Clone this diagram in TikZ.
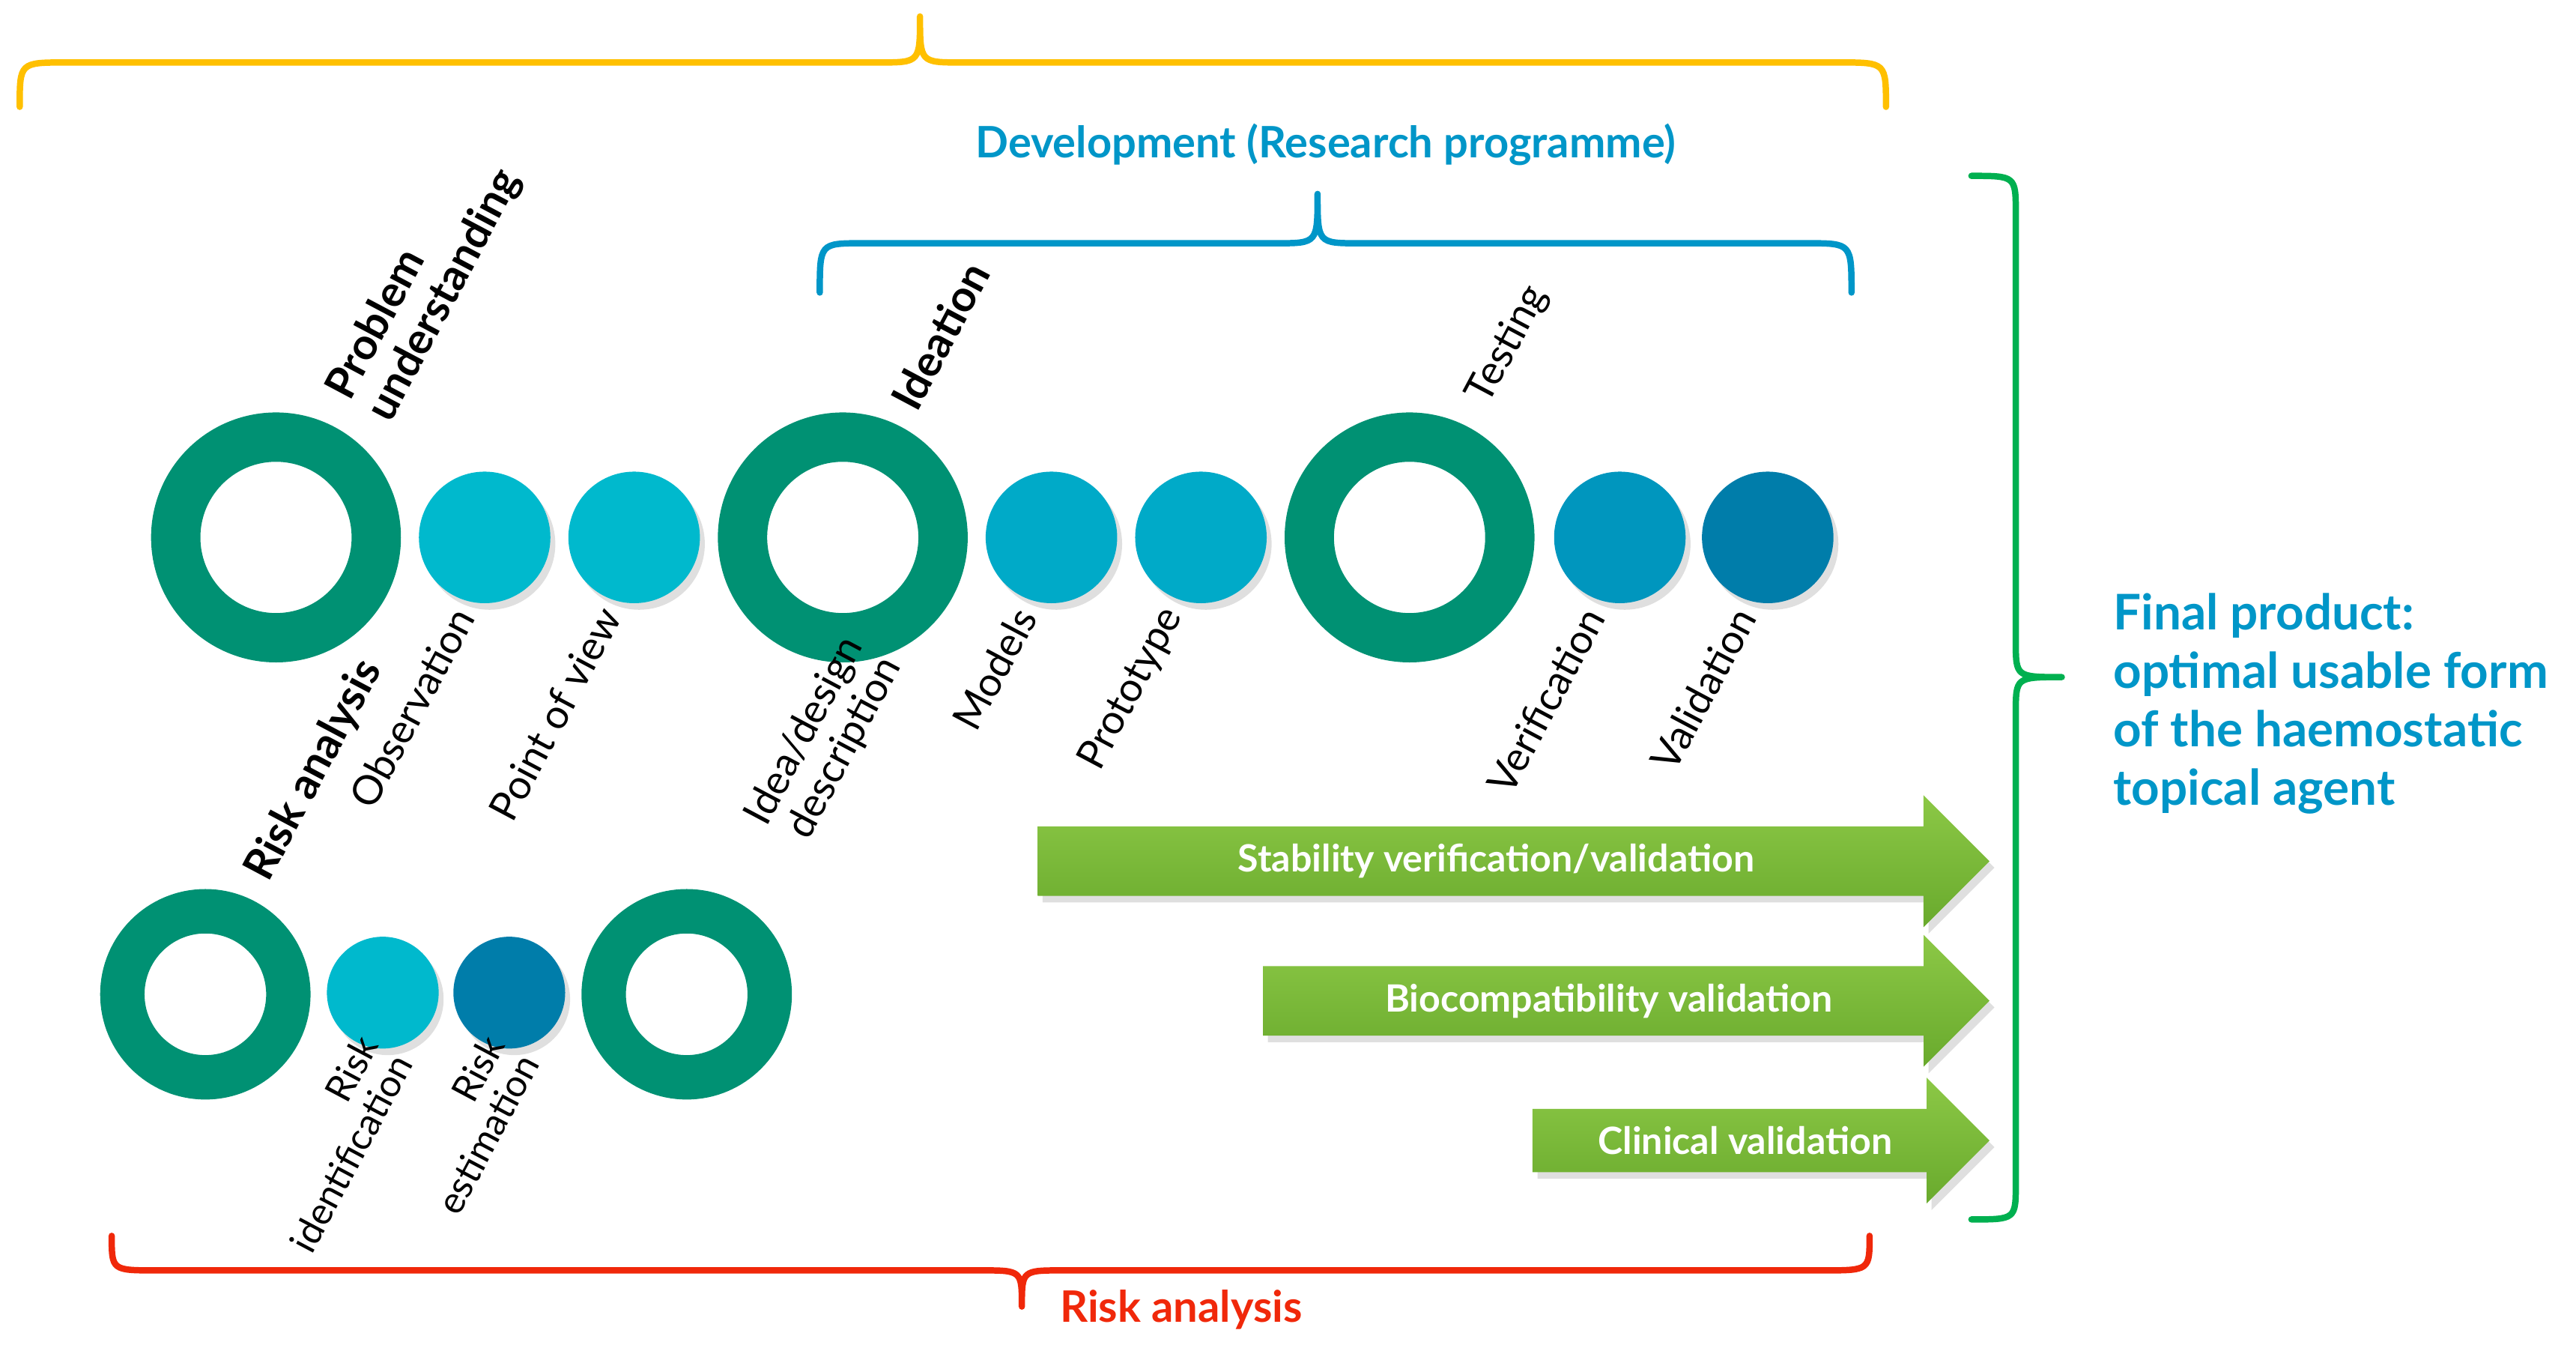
\documentclass[tikz,border=0pt]{standalone}
\usepackage{fontspec}
\setmainfont{Lato}
\usetikzlibrary{shapes.arrows,shadows}
\definecolor{ring}{RGB}{0,145,115}
\definecolor{cyanA}{RGB}{0,185,205}
\definecolor{cyanB}{RGB}{0,170,200}
\definecolor{cyanC}{RGB}{0,150,190}
\definecolor{cyanD}{RGB}{0,125,170}
\definecolor{devblue}{RGB}{0,150,200}
\definecolor{ybrace}{RGB}{255,192,0}
\definecolor{gbrace}{RGB}{0,176,80}
\definecolor{rbrace}{RGB}{240,40,10}
\definecolor{arrowG}{RGB}{105,170,45}
\definecolor{arrowL}{RGB}{140,200,70}
\begin{document}
\begin{tikzpicture}[x=0.01cm,y=-0.01cm,
  shd/.style={drop shadow={opacity=0.25,shadow xshift=0.03cm,shadow yshift=-0.04cm}},
  bigring/.style={circle,draw=ring,fill=white,line width=0.3cm,minimum size=1.22cm,inner sep=0,shd},
  smallring/.style={circle,draw=ring,fill=white,line width=0.27cm,minimum size=1.01cm,inner sep=0,shd},
  dot/.style={circle,minimum size=0.8cm,inner sep=0,shd},
  sdot/.style={circle,minimum size=0.68cm,inner sep=0,shd},
  lab/.style={font=\fontsize{7}{7.5}\selectfont,rotate=62,anchor=east,align=right,inner sep=1pt},
  slab/.style={lab,font=\fontsize{6.5}{6.8}\selectfont},
  blab/.style={lab,font=\fontsize{7.5}{8}\selectfont\bfseries},
  brace/.style={line width=1.1pt,line cap=round,line join=round},
  garrow/.style={single arrow,single arrow head extend=0.19cm,minimum height=#1,minimum width=0.38cm,inner xsep=0,inner ysep=0.1cm,
     top color=arrowL,bottom color=arrowG,draw=none,text=white,font=\fontsize{6.5}{7}\selectfont\bfseries,anchor=tip,shd}]
\useasboundingbox (0,0) rectangle (1568,820);
% braces
\draw[brace,ybrace] (12,65) .. controls (12,38) .. (40,38) -- (535,38) .. controls (560,38) .. (560,10) .. controls (560,38) .. (585,38) -- (1120,38) .. controls (1148,38) .. (1148,65);
\draw[brace,devblue] (499,178) .. controls (499,148) .. (525,148) -- (777,148) .. controls (802,148) .. (802,118) .. controls (802,148) .. (827,148) -- (1100,148) .. controls (1127,148) .. (1127,178);
\draw[brace,gbrace] (1200,107) .. controls (1227,107) .. (1227,130) -- (1227,390) .. controls (1227,412) .. (1255,412) .. controls (1227,412) .. (1227,434) -- (1227,720) .. controls (1227,742) .. (1200,742);
\draw[brace,rbrace] (68,752) .. controls (68,773) .. (95,773) -- (597,773) .. controls (622,773) .. (622,795) .. controls (622,773) .. (647,773) -- (1110,773) .. controls (1138,773) .. (1138,752);
\node[text=devblue,font=\fontsize{7.5}{9}\selectfont\bfseries] (dev) at (807,88) {Development (Research programme)};
\node[text=rbrace,font=\fontsize{7.5}{9}\selectfont\bfseries] (ra) at (719,797) {Risk analysis};
\node[text=devblue,font=\fontsize{8.5}{10.1}\selectfont\bfseries,align=left,anchor=west] (fp) at (1274,428) {Final product:\\optimal usable form\\of the haemostatic\\topical agent};
% top row
\node[bigring] (r1) at (168,327) {};
\node[dot,fill=cyanA] (c1) at (295,327) {};
\node[dot,fill=cyanA] (c2) at (386,327) {};
\node[bigring] (r2) at (513,327) {};
\node[dot,fill=cyanB] (c3) at (640,327) {};
\node[dot,fill=cyanB] (c4) at (731,327) {};
\node[bigring] (r3) at (858,327) {};
\node[dot,fill=cyanC] (c5) at (986,327) {};
\node[dot,fill=cyanD] (c6) at (1076,327) {};
% bottom row
\node[smallring] (s1) at (125,605) {};
\node[sdot,fill=cyanA] (d1) at (233,604) {};
\node[sdot,fill=cyanD] (d2) at (310,604) {};
\node[smallring] (s2) at (418,605) {};
% upper labels
\node[blab,align=left] (lpu) at (300,95) {Problem\\understanding};
\node[blab] (lid) at (597,158) {Ideation};
\node[lab] (lte) at (938,172) {Testing};
% lower labels
\node[blab] (lra) at (228,400) {Risk analysis};
\node[lab] (lob) at (284,368) {Observation};
\node[lab] (lpv) at (373,368) {Point of view};
\node[lab] (lidd) at (533,392) {Idea/design\\description};
\node[lab] (lmo) at (626,368) {Models};
\node[lab] (lpr) at (716,368) {Prototype};
\node[lab] (lve) at (972,368) {Verification};
\node[lab] (lva) at (1064,368) {Validation};
\node[slab] (lri) at (236,634) {Risk\\identification};
\node[slab] (lre) at (313,634) {Risk\\estimation};
% arrows
\node[garrow=5.79cm] (a1) at (1212,524) {Stability verification/validation};
\node[garrow=4.42cm] (a2) at (1212,609) {Biocompatibility validation};
\node[garrow=2.78cm] (a3) at (1212,694) {Clinical validation};
\end{tikzpicture}
\end{document}
